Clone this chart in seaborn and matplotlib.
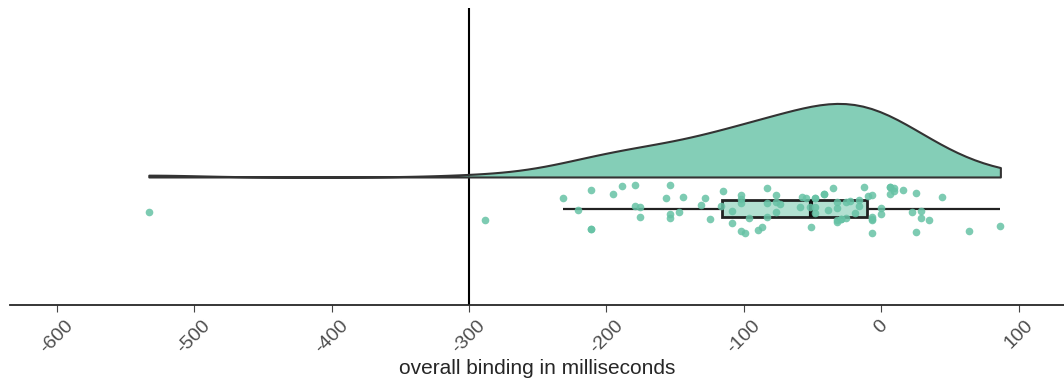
import numpy as np
import pandas as pd
import seaborn as sns
import matplotlib.pyplot as plt

# overall binding per participant, in milliseconds
binding_ms = [
    -533, -288,
    -231.6, -220.7, -211.2, -211.2, -211.2, -195.2, -188.6, -179.2, -179.2,
    -175.5, -175.5, -156.6, -153.7, -153.7, -153.7, -147.1, -144.2,
    -131.1, -128.2, -124.5, -116.5, -115.1, -108.5, -108.5, -102.0, -102.0,
    -102.0, -102.0, -99.1, -96.1, -89.6, -86.7, -83.0, -83.0, -83.0, -76.5,
    -76.5, -76.5, -73.6,
    -59.0, -57.5, -54.6, -51.5, -51.0, -48.1, -48.1, -48.1, -48.1, -41.5,
    -41.5, -38.6, -35.0, -32.0, -32.0, -32.0, -32.0, -29.1, -29.1, -25.5,
    -25.5, -22.6, -18.9, -16.0, -16.0, -12.4, -9.5, -6.6, -6.6, -6.6, -6.6,
    -6.6, 0.0, 0.0, 6.6, 6.6, 6.6, 9.5, 9.5, 16.0, 22.6, 25.5, 25.5, 29.1,
    29.1, 35.0, 44.4, 64.1, 86.7,
]
x_ticks = [-600, -500, -400, -300, -200, -100, 0, 100]
x_label = 'overall binding in milliseconds'

green = sns.color_palette('Set2')[0]
n = len(binding_ms)
cloud = pd.DataFrame({'ms': binding_ms, 'pos': [-1.15] * n})
rain = pd.DataFrame({'ms': binding_ms, 'pos': [1] * n})

sns.set_style('ticks')
plt.rcParams['font.family'] = ['Liberation Sans', 'DejaVu Sans']

fig = plt.figure(figsize=(10.64, 3.85), dpi=100)
ax = fig.add_axes([0.0094, 0.208, 0.9906, 0.771])

# half violin (the cloud)
sns.violinplot(data=cloud, x='ms', y='pos', orient='h', native_scale=True,
               split=True, inner=None, cut=0, width=2.3,
               color=green, saturation=1, linewidth=1.5, linecolor='#333333',
               ax=ax)
for c in ax.collections:
    c.set_facecolor((*green, 0.8))
    c.set_edgecolor('#333333')

# box
sns.boxplot(data=rain, x='ms', y='pos', orient='h', native_scale=True,
            width=0.53, color=green, saturation=1, showfliers=False,
            showcaps=False, linewidth=1.6, linecolor='#222222',
            medianprops={'linewidth': 3, 'color': '#111111'}, ax=ax)
for p in ax.patches:
    p.set_facecolor((*green, 0.5))
    p.set_edgecolor('#222222')
    p.set_linewidth(2)

# rain
np.random.seed(3)
sns.stripplot(data=rain, x='ms', y='pos', orient='h', native_scale=True,
              jitter=0.8, color=green, alpha=0.85, size=5.5, zorder=5, ax=ax)

ax.axvline(-300, color='black', linewidth=1.5, zorder=0)

ax.set_xlim(-634, 133)
ax.set_ylim(4.0, -5.28)
ax.set_xticks(x_ticks)
ax.set_xticklabels([str(t) for t in x_ticks], rotation=45, fontsize=14,
                   color='#4d4d4d')
ax.tick_params(axis='x', length=5, color='#444444')
ax.set_yticks([])
ax.set_ylabel('')
ax.set_xlabel(x_label, fontsize=15, labelpad=2)
for side in ['left', 'top', 'right']:
    ax.spines[side].set_visible(False)
ax.spines['bottom'].set_linewidth(1.3)

fig.savefig('out.png', dpi=100)
